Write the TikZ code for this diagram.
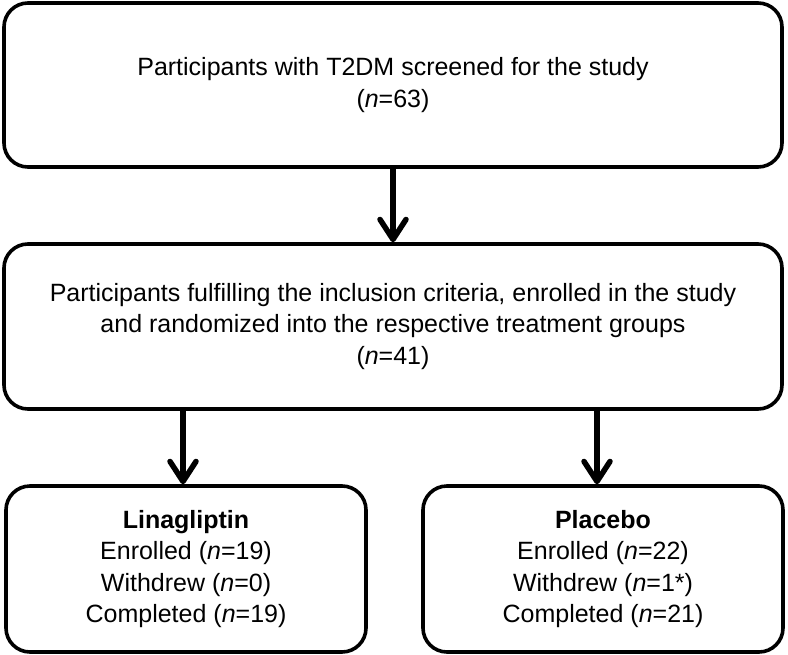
\documentclass[tikz,border=0pt]{standalone}
\usepackage{fontspec}
\setmainfont{Liberation Sans}
\usetikzlibrary{arrows.meta}
\begin{document}
\begin{tikzpicture}[x=1pt,y=-1pt,
  flowbox/.style={draw=black, line width=3.6pt, rounded corners=24pt, align=center,
    font=\fontsize{25}{31.3}\selectfont, inner sep=0pt},
  flowarrow/.style={line width=5.5pt, -{Straight Barb[length=20pt,width=26pt,line cap=round,line join=round]}}]
\useasboundingbox (0,0) rectangle (788,654);
\node[flowbox, minimum width=778pt, minimum height=164pt] (screen) at (393,85)
  {Participants with T2DM screened for the study\\(\textit{n}=63)};
\node[flowbox, minimum width=778pt, minimum height=165pt] (enrol) at (393,326.5)
  {Participants fulfilling the inclusion criteria, enrolled in the study\\and randomized into the respective treatment groups\\(\textit{n}=41)};
\node[flowbox, minimum width=360pt, minimum height=166pt] (lina) at (186,569)
  {\textbf{Linagliptin}\\Enrolled (\textit{n}=19)\\Withdrew (\textit{n}=0)\\Completed (\textit{n}=19)};
\node[flowbox, minimum width=360pt, minimum height=166pt] (plac) at (603,569)
  {\textbf{Placebo}\\Enrolled (\textit{n}=22)\\Withdrew (\textit{n}=1*)\\Completed (\textit{n}=21)};
\draw[flowarrow] (screen.south) -- (enrol.north);
\draw[flowarrow] (enrol.south -| 183,0) -- (lina.north -| 183,0);
\draw[flowarrow] (enrol.south -| 597,0) -- (plac.north -| 597,0);
\end{tikzpicture}
\end{document}
